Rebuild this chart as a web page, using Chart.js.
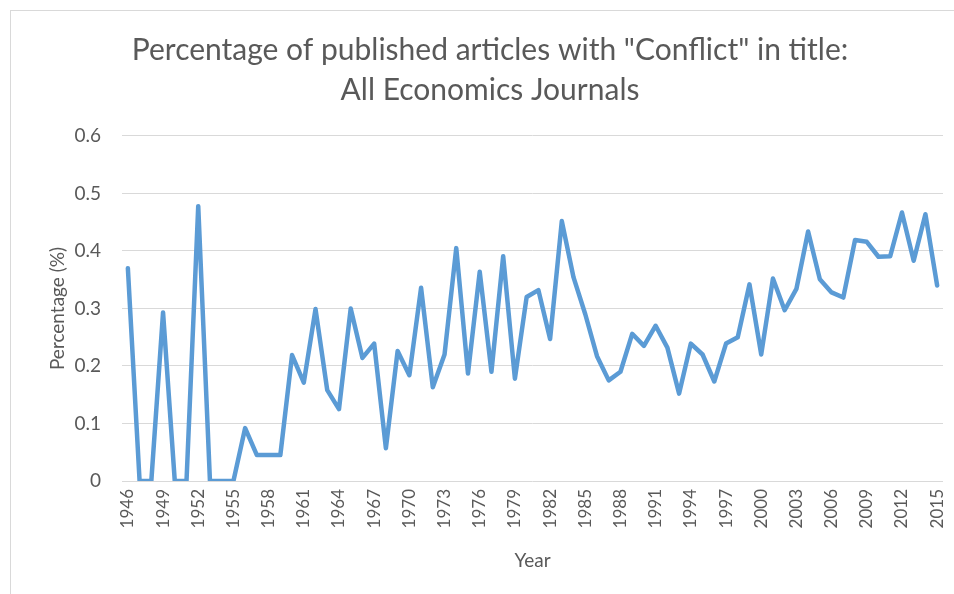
<!DOCTYPE html>
<html>
<head>
<meta charset="utf-8">
<title>Conflict in title</title>
<script src="https://cdn.jsdelivr.net/npm/chart.js@4.4.0/dist/chart.umd.min.js"></script>
<style>
  html, body { margin: 0; padding: 0; background: #fff; overflow: hidden; width: 954px; height: 594px; }
  #box { position: absolute; left: 10px; top: 10px; width: 980px; height: 600px; border-left: 1px solid #d9d9d9; border-top: 1px solid #d9d9d9; }
  #chart { position: absolute; left: 37px; top: 10px; display: block; }
</style>
</head>
<body>
<div id="box"></div>
<canvas id="chart" width="906" height="600"></canvas>
<script>
// years 1946..2015
const years = [];
for (let y = 1946; y <= 2015; y++) years.push(String(y));

// percentage of articles with "Conflict" in the title
const share = [
  0.37, 0, 0, 0.293, 0, 0, 0.478, 0, 0, 0,
  0.092, 0.045, 0.045, 0.045, 0.219, 0.171, 0.299, 0.158, 0.125, 0.300,
  0.214, 0.239, 0.057, 0.226, 0.184, 0.336, 0.163, 0.220, 0.405, 0.187,
  0.364, 0.190, 0.391, 0.178, 0.320, 0.332, 0.247, 0.452, 0.354, 0.290,
  0.217, 0.175, 0.190, 0.256, 0.235, 0.270, 0.232, 0.152, 0.239, 0.220,
  0.173, 0.239, 0.250, 0.342, 0.220, 0.352, 0.297, 0.334, 0.434, 0.351,
  0.328, 0.319, 0.419, 0.416, 0.390, 0.391, 0.467, 0.383, 0.464, 0.340
];

const titleLines = ['Percentage of published articles with "Conflict" in title:', 'All Economics Journals'];
const yTicks = [0, 0.1, 0.2, 0.3, 0.4, 0.5, 0.6];

const grey = '#595959';
const fontFamily = 'Lato, "Open Sans", sans-serif';

const ctx = document.getElementById('chart').getContext('2d');
new Chart(ctx, {
  type: 'line',
  data: {
    labels: years,
    datasets: [{
      label: 'Percentage',
      data: share,
      borderColor: '#5b9bd5',
      borderWidth: 4.5,
      borderJoinStyle: 'round',
      borderCapStyle: 'round',
      pointRadius: 0,
      tension: 0,
      fill: false,
    }],
  },
  options: {
    responsive: false,
    animation: false,
    layout: { padding: { left: 0, right: 0, top: 0, bottom: 0 } },
    plugins: {
      legend: { display: false },
      tooltip: { enabled: false },
      title: {
        display: true,
        text: titleLines,
        color: grey,
        font: { family: fontFamily, size: 30, weight: 'normal', lineHeight: 1.333 },
        padding: { top: 20, bottom: 26 },
      },
    },
    scales: {
      x: {
        offset: true,
        grid: { display: false, drawTicks: false },
        border: { display: false },
        ticks: {
          autoSkip: false,
          maxRotation: 90,
          minRotation: 90,
          padding: 8,
          color: grey,
          font: { family: fontFamily, size: 17 },
          callback: function (value, index) {
            return index % 3 === 0 ? years[index] : '';
          },
        },
        title: {
          display: true,
          text: 'Year',
          color: grey,
          font: { family: fontFamily, size: 19 },
          padding: { top: 38, bottom: 38 },
        },
        afterFit: function (scale) {
          scale.height = 129;
          scale.paddingLeft = 0;
          scale.paddingRight = 0;
        },
      },
      y: {
        min: 0,
        max: 0.6,
        afterBuildTicks: function (scale) {
          scale.ticks = yTicks.map(v => ({ value: v }));
        },
        grid: { color: '#d9d9d9', lineWidth: 1, drawTicks: false },
        border: { display: false },
        ticks: {
          padding: 21,
          color: grey,
          font: { family: fontFamily, size: 19 },
          callback: function (value) { return String(Math.round(value * 10) / 10); },
        },
        title: {
          display: true,
          text: 'Percentage (%)',
          color: grey,
          font: { family: fontFamily, size: 19 },
          padding: { top: 9, bottom: 9 },
        },
        afterFit: function (scale) { scale.width = 85; },
      },
    },
  },
});
</script>
</body>
</html>
